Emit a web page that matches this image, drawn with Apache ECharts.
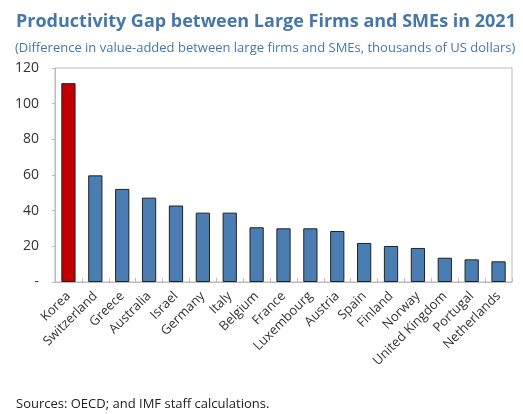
<!DOCTYPE html>
<html>
<head>
<meta charset="utf-8">
<script src="https://cdn.jsdelivr.net/npm/echarts@6/dist/echarts.min.js"></script>
<style>
  html, body { margin: 0; padding: 0; background: #fff; }
  #chart { width: 523px; height: 414px; }
</style>
</head>
<body>
<div id="chart"></div>
<script>
// Productivity gap by country, 2021 (thousands of US dollars)
const countries = ['Korea', 'Switzerland', 'Greece', 'Australia', 'Israel', 'Germany', 'Italy',
  'Belgium', 'France', 'Luxembourg', 'Austria', 'Spain', 'Finland', 'Norway',
  'United Kingdom', 'Portugal', 'Netherlands'];
const gapValues = [111.5, 59.8, 52.2, 47.3, 42.9, 38.9, 38.9, 30.7, 30.1, 30.1, 28.6, 21.9, 20.2, 19.1, 13.6, 12.7, 11.6];
const yTicks = [0, 20, 40, 60, 80, 100, 120];

const highlight = 'Korea';
const fontFamily = '"Open Sans", "Noto Sans", sans-serif';

const chart = echarts.init(document.getElementById('chart'), null, { renderer: 'canvas' });

chart.setOption({
  animation: false,
  backgroundColor: '#ffffff',
  title: [
    {
      text: 'Productivity Gap between Large Firms and SMEs in 2021',
      left: 11, top: 8,
      textStyle: { fontFamily, fontSize: 18, fontWeight: 'bold', color: '#4677aa' }
    },
    {
      text: '(Difference in value-added between large firms and SMEs, thousands of US dollars)',
      left: 10, top: 37,
      textStyle: { fontFamily, fontSize: 13, fontWeight: 'normal', color: '#4677aa' }
    },
    {
      text: 'Sources: OECD; and IMF staff calculations.',
      left: 11, top: 393,
      textStyle: { fontFamily, fontSize: 13, fontWeight: 'normal', color: '#222' }
    }
  ],
  grid: { left: 55, right: 11, top: 68, bottom: 132, show: true, borderColor: '#bbbbbb', borderWidth: 1 },
  xAxis: {
    type: 'category',
    data: countries,
    axisLine: { lineStyle: { color: '#bbbbbb' } },
    axisTick: { show: true, inside: true, length: 4, alignWithLabel: false, lineStyle: { color: '#bbbbbb' } },
    axisLabel: { rotate: 45, interval: 0, fontFamily, fontSize: 13, color: '#333', margin: 12 }
  },
  yAxis: {
    type: 'value',
    min: yTicks[0], max: yTicks[yTicks.length - 1], interval: yTicks[1] - yTicks[0],
    splitLine: { show: false },
    axisLine: { show: true, lineStyle: { color: '#bbbbbb' } },
    axisTick: { show: true, length: 3, lineStyle: { color: '#bbbbbb' } },
    axisLabel: {
      fontFamily, fontSize: 14, color: '#333', margin: 16,
      formatter: v => (v === 0 ? '-' : String(v))
    }
  },
  series: [{
    type: 'bar',
    data: countries.map((c, i) => ({
      value: gapValues[i],
      itemStyle: { color: c === highlight ? '#c00000' : '#4a7eb3' }
    })),
    barWidth: '53%',
    itemStyle: { borderColor: '#222', borderWidth: 1 }
  }]
});
</script>
</body>
</html>
